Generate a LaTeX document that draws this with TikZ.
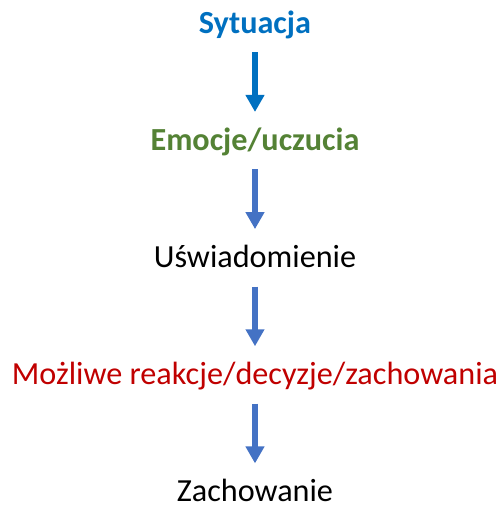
\documentclass[tikz,border=0pt]{standalone}
\usepackage{fontspec}
\setmainfont{Carlito}
\usepackage{xcolor}
\usepackage{tikz}
\usetikzlibrary{shapes,arrows,arrows.meta,positioning}

\definecolor{sitblue}{HTML}{0070C0}
\definecolor{arrblue}{HTML}{4472C4}
\definecolor{emogreen}{HTML}{548235}
\definecolor{darkred}{HTML}{C00000}

\begin{document}
\begin{tikzpicture}[
  stage/.style={inner sep=0pt, text height=22pt, text depth=5pt,
                font=\fontsize{32.2}{38}\selectfont},
  arr/.style={-{Triangle[width=18pt,length=17pt]}, line width=5.5pt,
              draw=arrblue, shorten <=14pt, shorten >=16pt},
  node distance=89.75pt
]
\useasboundingbox (0,0) rectangle (502pt,-509pt);
\node[stage, anchor=base, text=sitblue, font=\fontsize{32.2}{38}\selectfont\bfseries]
  (sit) at (255pt,-33pt) {Sytuacja};
\node[stage, below=of sit, text=emogreen, font=\fontsize{32.2}{38}\selectfont\bfseries]
  (emo) {Emocje/uczucia};
\node[stage, below=of emo] (usw) {Uświadomienie};
\node[stage, below=of usw, text=darkred] (reak) {Możliwe reakcje/decyzje/zachowania};
\node[stage, below=of reak] (zach) {Zachowanie};
\draw[arr, draw=sitblue] (sit) -- (emo);
\draw[arr] (emo) -- (usw);
\draw[arr] (usw) -- (reak);
\draw[arr] (reak) -- (zach);
\end{tikzpicture}
\end{document}
